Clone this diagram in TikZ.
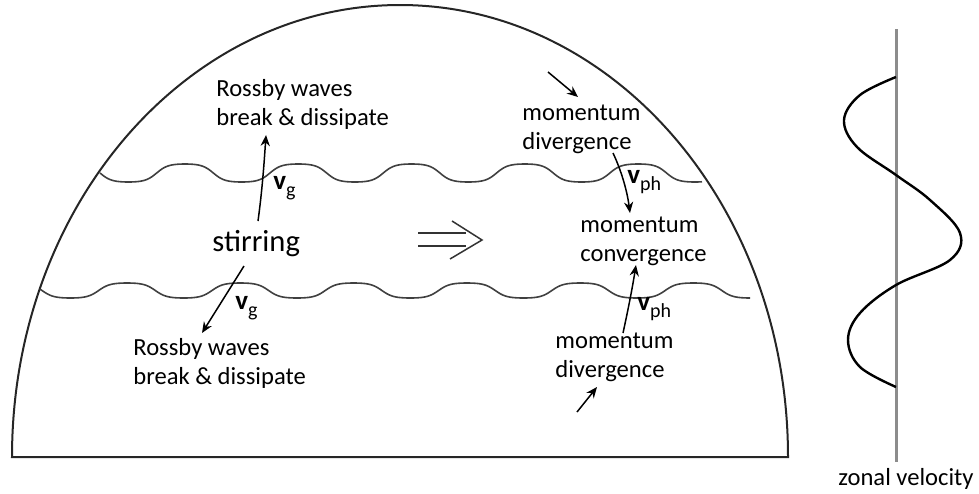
\documentclass[tikz,border=0pt]{standalone}
\usepackage{fontspec}
\setmainfont{Carlito}
\usetikzlibrary{arrows.meta}
\begin{document}
\begin{tikzpicture}[x=0.5pt,y=-0.5pt,
  dome/.style={line width=1pt,draw=black!85},
  wave/.style={line width=0.8pt,draw=black!75},
  flow/.style={line width=0.75pt,-{Stealth[length=5.5pt,width=4.6pt]}},
  lbl/.style={inner sep=0pt,anchor=base west,align=left,font=\fontsize{12.3}{14.5}\selectfont},
  vel/.style={inner sep=0pt,anchor=base west,font=\fontsize{13.5}{16}\selectfont},
  imply/.style={line width=0.75pt,draw=black!80},
  axisline/.style={line width=1.5pt,draw=black!45},
  profile/.style={line width=1.2pt,draw=black}
]
\useasboundingbox (0,0) rectangle (979,493);
% dome
\draw[dome] (12,457) arc[start angle=180,end angle=360,x radius=388,y radius=452] -- cycle;
% waves
\draw[wave] plot[domain=100:702,samples=300,smooth] (\x,{173-9*tanh(1.5*cos(((\x-185)/113.3)*360))/tanh(1.5)});
\draw[wave] plot[domain=40:750,samples=300,smooth] (\x,{290.5-7.5*tanh(1.5*cos(((\x-127)/113.3)*360))/tanh(1.5)});
% texts (base anchor = baseline of last line)
\node[lbl] (rw1) at (216,125) {Rossby waves\\break \& dissipate};
\node[lbl] (rw2) at (133,384) {Rossby waves\\break \& dissipate};
\node[inner sep=0pt,anchor=base west,font=\fontsize{15.3}{18}\selectfont] (stir) at (212,251) {stirring};
\node[lbl] (md1) at (522,149) {momentum\\divergence};
\node[lbl] (mc) at (580,261) {momentum\\convergence};
\node[lbl] (md2) at (555,377) {momentum\\divergence};
\node[lbl] (zv) at (838,485) {zonal velocity};
% velocity labels
\node[vel] (vg1) at (273,189) {\textbf{v}\raisebox{-3.5pt}{\fontsize{10}{10}\selectfont g}};
\node[vel] (vg2) at (235,309) {\textbf{v}\raisebox{-3.5pt}{\fontsize{10}{10}\selectfont g}};
\node[vel] (vp1) at (627,183) {\textbf{v}\raisebox{-3.5pt}{\fontsize{10}{10}\selectfont ph}};
\node[vel] (vp2) at (637,310) {\textbf{v}\raisebox{-3.5pt}{\fontsize{10}{10}\selectfont ph}};
% arrow end points
\coordinate (a1s) at (258,221); \coordinate (a1e) at (266,135);
\coordinate (a2s) at (244,266); \coordinate (a2e) at (202,333);
\coordinate (a3s) at (548,72);  \coordinate (a3e) at (578,97);
\coordinate (a4s) at (613,153); \coordinate (a4e) at (630,213);
\coordinate (a5s) at (623,333); \coordinate (a5e) at (636,265);
\coordinate (a6s) at (577,412); \coordinate (a6e) at (597,387);
\draw[flow] (a1s) .. controls (262,192) and (264,165) .. (a1e);
\draw[flow] (a2s) -- (a2e);
\draw[flow] (a3s) -- (a3e);
\draw[flow] (a4s) .. controls (621,170) and (627,190) .. (a4e);
\draw[flow] (a5s) .. controls (628,310) and (632,290) .. (a5e);
\draw[flow] (a6s) -- (a6e);
% implies symbol
\draw[imply] (418,233) -- (466,233);
\draw[imply] (418,246) -- (466,246);
\draw[imply] (452,221) -- (482,240) -- (450,259);
% zonal velocity profile
\draw[axisline] (896,29) -- (896,462);
\draw[profile] plot[smooth,tension=0.6] coordinates {(896,77) (860,95) (844,120) (857,147) (896,175) (930,200) (960,233) (950,260) (896,285) (860,313) (848,340) (860,367) (896,387)};
\end{tikzpicture}
\end{document}
